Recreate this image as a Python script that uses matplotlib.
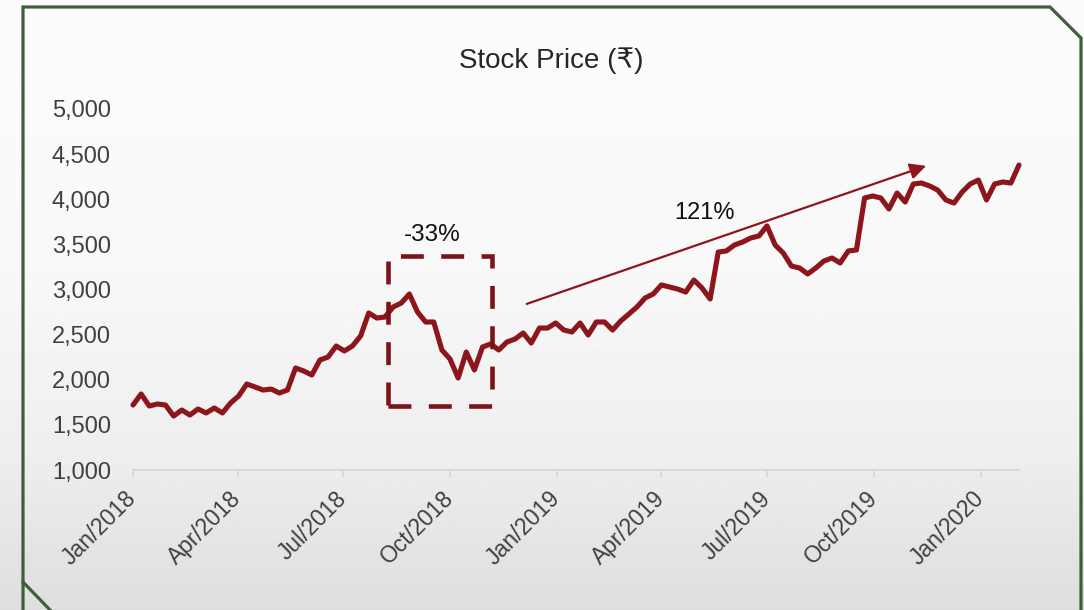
import numpy as np
import pandas as pd
import matplotlib
matplotlib.use("Agg")
import matplotlib.pyplot as plt
import matplotlib.dates as mdates
from matplotlib.lines import Line2D
from matplotlib.patches import Rectangle
from matplotlib.ticker import FuncFormatter

plt.rcParams['font.family'] = ['Liberation Sans', 'DejaVu Sans']

# ---- data (weekly closes) ----
start_date = "2018-01-01"
prices = [
    1720, 1842, 1709, 1731, 1720, 1598, 1665, 1609, 1676, 1632,
    1687, 1632, 1742, 1820, 1953, 1920, 1886, 1897, 1853, 1886,
    2130, 2097, 2053, 2219, 2252, 2374, 2319, 2374, 2485, 2740,
    2684, 2695, 2806, 2850, 2950, 2751, 2640, 2640, 2330, 2230,
    2019, 2307, 2108, 2363, 2396, 2330, 2418, 2451, 2518, 2407,
    2573, 2573, 2629, 2551, 2529, 2629, 2496, 2640, 2640, 2551,
    2651, 2728, 2806, 2906, 2950, 3050, 3028, 3005, 2972, 3105,
    3017, 2895, 3415, 3427, 3493, 3526, 3571, 3593, 3704, 3493,
    3404, 3260, 3238, 3172, 3238, 3316, 3349, 3294, 3427, 3438,
    4014, 4036, 4014, 3892, 4069, 3969, 4169, 4180, 4147, 4102,
    3992, 3958, 4080, 4169, 4213, 3992, 4169, 4191, 4180, 4379,
]
dates = pd.date_range(start_date, periods=len(prices), freq="7D")

title = "Stock Price (\u20b9)"
y_ticks = [1000, 1500, 2000, 2500, 3000, 3500, 4000, 4500, 5000]

# annotations
box_dates = ["2018-08-09", "2018-11-06"]
box_prices = [1710, 3370]
drop_label = "-33%"
drop_label_pos = ("2018-09-16", 3600)
rise_start = ("2018-12-06", 2840)
rise_end = ("2019-11-15", 4370)
rise_label = "121%"
rise_label_pos = ("2019-05-08", 3850)

# ---- styling ----
W, H = 1084, 610
line_color = "#8C161C"
box_color = "#7A1418"
border_color = "#3F5F3A"
text_color = "#404040"

fig = plt.figure(figsize=(W / 100, H / 100), dpi=100)

# background gradient
bg = fig.add_axes([0, 0, 1, 1], zorder=-10)
rows = np.linspace(0, 1, 300)
shade = np.interp(rows, [0, 0.45, 0.75, 1.0], [252, 248, 238, 222]) / 255.0
img = np.repeat(shade[:, None], 10, axis=1)
bg.imshow(img, cmap="gray", vmin=0, vmax=1, aspect="auto",
          extent=[0, 1, 0, 1], origin="upper")
bg.set_axis_off()

ax = fig.add_axes([133 / W, 1 - 470 / H, (1019 - 133) / W, (470 - 109) / H])
ax.patch.set_alpha(0)

ax.plot(dates, prices, color=line_color, lw=3.7, solid_joinstyle="round",
        solid_capstyle="round", zorder=3, clip_on=False)

ax.set_xlim(pd.Timestamp(start_date), dates[-1])
ax.set_ylim(1000, 5000)
ax.set_yticks(y_ticks)
ax.yaxis.set_major_formatter(FuncFormatter(lambda v, p: f"{int(v):,}"))

ax.xaxis.set_major_locator(mdates.MonthLocator(bymonth=[1, 4, 7, 10]))
ax.xaxis.set_major_formatter(mdates.DateFormatter("%b/%Y"))

for s in ["top", "right", "left"]:
    ax.spines[s].set_visible(False)
ax.spines["bottom"].set_color("#D9D9D9")
ax.spines["bottom"].set_linewidth(1.5)

ax.tick_params(axis="y", length=0, pad=16, labelsize=17, labelcolor=text_color)
ax.tick_params(axis="x", length=5, width=1.5, color="#D9D9D9", direction="out",
               pad=13, labelsize=16.5, labelcolor=text_color)
for lbl in ax.get_xticklabels():
    lbl.set_rotation(45)
    lbl.set_ha("right")
    lbl.set_va("center")
    lbl.set_rotation_mode("anchor")

fig.text(551 / W, 1 - 61 / H, title, fontsize=20, color="#262626",
         ha="center", va="center")

# dashed box
bx0 = mdates.date2num(pd.Timestamp(box_dates[0]))
bx1 = mdates.date2num(pd.Timestamp(box_dates[1]))
rect = Rectangle((bx0, box_prices[0]), bx1 - bx0, box_prices[1] - box_prices[0],
                 fill=False, edgecolor=box_color, lw=3.3,
                 linestyle=(0, (5.0, 3.8)), zorder=4)
ax.add_patch(rect)
ax.text(pd.Timestamp(drop_label_pos[0]), drop_label_pos[1], drop_label,
        ha="center", va="center", fontsize=17.5, color="#111111")

# rise arrow
ax.annotate("", xy=(pd.Timestamp(rise_end[0]), rise_end[1]),
            xytext=(pd.Timestamp(rise_start[0]), rise_start[1]),
            arrowprops=dict(arrowstyle="-|>", color=line_color, lw=1.6,
                            mutation_scale=24, shrinkA=0, shrinkB=0),
            zorder=5)
ax.text(pd.Timestamp(rise_label_pos[0]), rise_label_pos[1], rise_label,
        ha="center", va="center", fontsize=17, color="#111111")

# frame border with cut corners
bpx = [(23, 620), (23, 582), (52, 612)]
fig.add_artist(Line2D([p[0] / W for p in bpx], [1 - p[1] / H for p in bpx],
                      transform=fig.transFigure, color=border_color, lw=2.3))
bpx2 = [(23, 582), (23, 7), (1050, 7), (1081, 38), (1081, 620)]
fig.add_artist(Line2D([p[0] / W for p in bpx2], [1 - p[1] / H for p in bpx2],
                      transform=fig.transFigure, color=border_color, lw=2.3,
                      solid_joinstyle="miter"))

fig.savefig("out.png", dpi=100)
